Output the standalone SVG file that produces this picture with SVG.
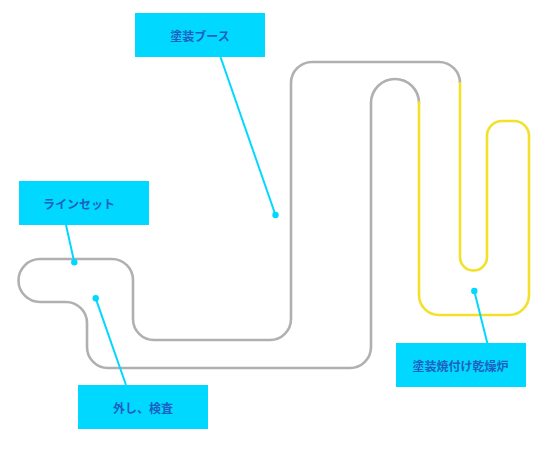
<svg xmlns="http://www.w3.org/2000/svg" width="559" height="453" viewBox="0 0 559 453">
<style>
.track{fill:none;stroke-width:2.6;stroke-linejoin:round;stroke-linecap:butt}
.gray{stroke:#b0b0b0}
.yellow{stroke:#f3e02a}
.lead{stroke:#00d8ff;stroke-width:2;fill:none}
.dot{fill:#00d8ff}
.box{fill:#00d8ff}
.lbl{font-family:"Noto Sans CJK JP","Noto Sans",sans-serif;font-size:12px;font-weight:bold;fill:#1f5fbf;text-anchor:middle;dominant-baseline:central}
</style>
<rect width="559" height="453" fill="#ffffff"/>
<g id="track">
<path class="track gray" d="M419,103 A24,24 0 0 0 371,103 L371,347 A21,21 0 0 1 350,368 L108,368 A21,21 0 0 1 87,347 L87,323 A21,21 0 0 0 66,302 L40,302 A21.5,21.5 0 0 1 40,259 L112,259 A21,21 0 0 1 133,280 L133,319 A21,21 0 0 0 154,340 L270,340 A21,21 0 0 0 291,319 L291,83 A21,21 0 0 1 312,62 L439,62 A21,21 0 0 1 460,83"/>
<path class="track yellow" d="M460,82 L460,257 A13.5,13.5 0 0 0 487,257 L487,136 A15,15 0 0 1 502,121 L514,121 A15,15 0 0 1 529,136 L529,295 A20,20 0 0 1 509,315 L439,315 A20,20 0 0 1 419,295 L419,101"/>
</g>
<g id="connectors">
<line class="lead" x1="220.5" y1="57" x2="275.5" y2="215"/>
<circle class="dot" cx="275.5" cy="215" r="3.2"/>
<line class="lead" x1="66" y1="225" x2="74.3" y2="262.3"/>
<circle class="dot" cx="74.3" cy="262.3" r="3.2"/>
<line class="lead" x1="95.7" y1="298.3" x2="126" y2="385"/>
<circle class="dot" cx="95.7" cy="298.3" r="3.2"/>
<line class="lead" x1="474.3" y1="291" x2="487.3" y2="343"/>
<circle class="dot" cx="474.3" cy="291" r="3.2"/>
</g>
<g id="booth">
<rect class="box" x="135" y="13" width="130" height="44"/>
<text class="lbl" x="200" y="35.5">塗装ブース</text>
</g>
<g id="lineset">
<rect class="box" x="19" y="181" width="130" height="44"/>
<text class="lbl" x="79" y="203">ラインセット</text>
</g>
<g id="inspection">
<rect class="box" x="78" y="385" width="130" height="44"/>
<text class="lbl" x="143" y="407">外し、検査</text>
</g>
<g id="oven">
<rect class="box" x="396" y="343" width="130" height="44"/>
<text class="lbl" x="460.5" y="365">塗装焼付け乾燥炉</text>
</g>
</svg>
